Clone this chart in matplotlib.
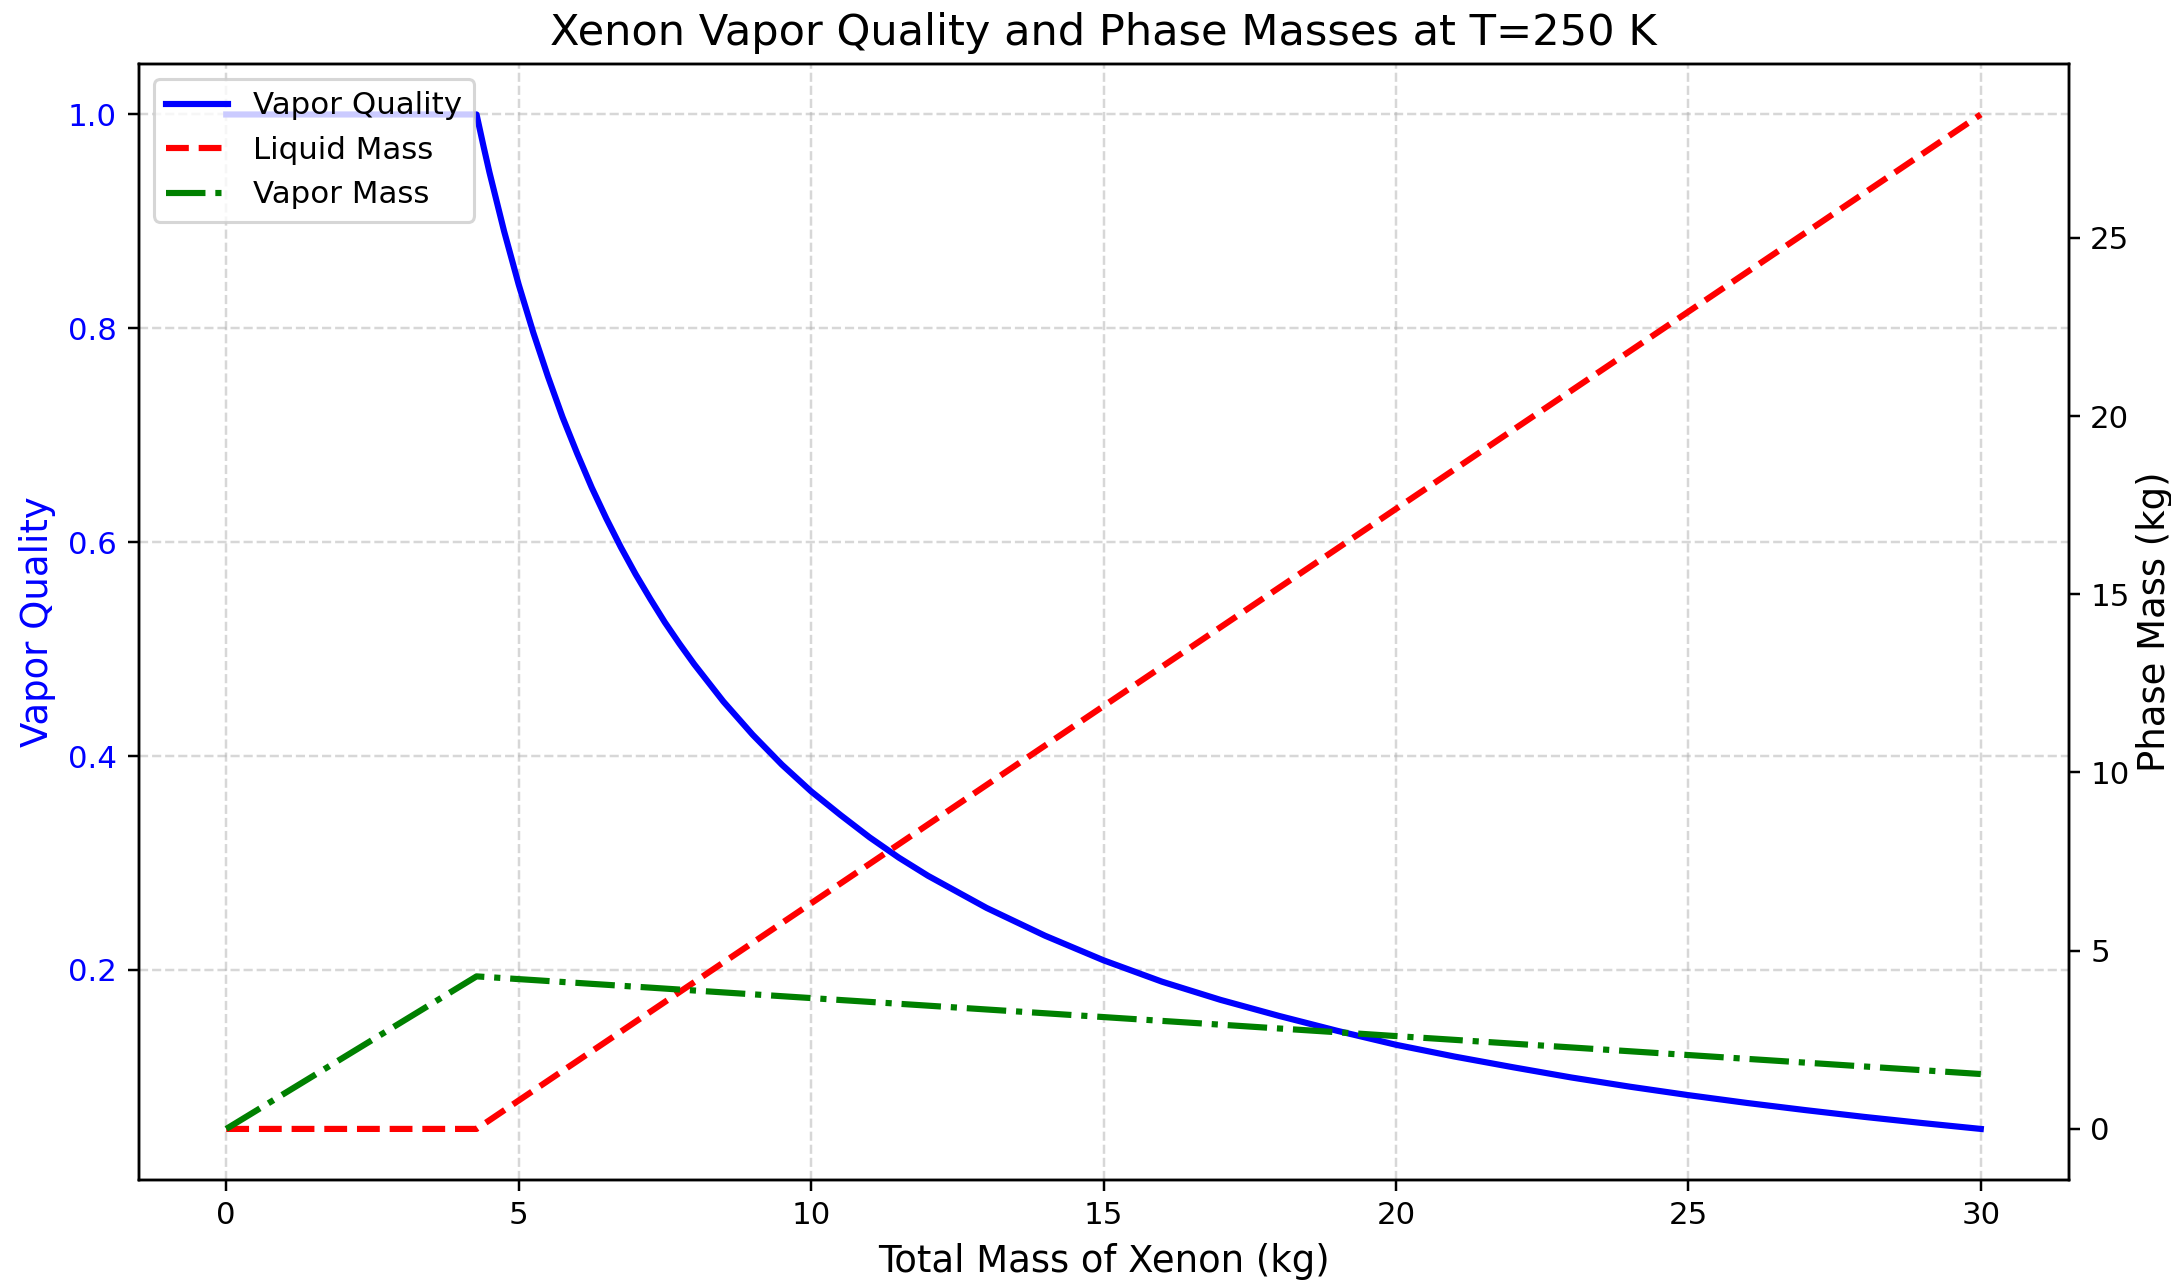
import matplotlib
matplotlib.use("Agg")
import matplotlib.pyplot as plt

# total xenon mass in the tank (kg)
total_mass = [0, 1, 2, 3, 4, 4.28, 4.4, 4.5, 4.75, 5, 5.25, 5.5, 5.75, 6,
              6.25, 6.5, 6.75, 7, 7.25, 7.5, 7.75, 8, 8.5, 9, 9.5, 10, 10.5,
              11, 11.5, 12,
              13, 14, 15, 16, 17, 18, 19, 20, 21, 22, 23, 24, 25, 26, 27, 28,
              29, 30]

vapor_quality = [1.0, 1.0, 1.0, 1.0, 1.0, 1.0, 0.970, 0.946, 0.891, 0.841,
                 0.796, 0.755, 0.717, 0.683, 0.651, 0.622, 0.595, 0.570,
                 0.547, 0.525, 0.505, 0.486, 0.451, 0.420, 0.392, 0.367,
                 0.345, 0.324, 0.305, 0.288,
                 0.258, 0.232, 0.209, 0.189, 0.172, 0.157, 0.143, 0.130,
                 0.119, 0.109, 0.0994, 0.0908, 0.0829, 0.0756, 0.0689,
                 0.0626, 0.0568, 0.0513]

liquid_mass = [0, 0, 0, 0, 0, 0, 0.133, 0.243, 0.520, 0.797, 1.073, 1.350,
               1.627, 1.903, 2.180, 2.456, 2.733, 3.010, 3.286, 3.563, 3.840,
               4.116, 4.670, 5.223, 5.776, 6.329, 6.883, 7.436, 7.989, 8.542,
               9.649, 10.755, 11.862, 12.969, 14.075, 15.182, 16.288, 17.395,
               18.501, 19.608, 20.714, 21.821, 22.927, 24.034, 25.140,
               26.247, 27.353, 28.460]

vapor_mass = [0, 1, 2, 3, 4, 4.28, 4.267, 4.257, 4.230, 4.203, 4.177, 4.150,
              4.123, 4.097, 4.070, 4.044, 4.017, 3.990, 3.964, 3.937, 3.910,
              3.884, 3.830, 3.777, 3.724, 3.671, 3.617, 3.564, 3.511, 3.458,
              3.351, 3.245, 3.138, 3.031, 2.925, 2.818, 2.712, 2.605, 2.499,
              2.392, 2.286, 2.179, 2.073, 1.966, 1.860, 1.753, 1.647, 1.540]

dpi = 222
fig, ax1 = plt.subplots(figsize=(2171 / dpi, 1280 / dpi), dpi=dpi)
fig.subplots_adjust(left=0.0638, right=0.9528, top=0.9502, bottom=0.0784)

l1, = ax1.plot(total_mass, vapor_quality, 'b-', lw=2, label="Vapor Quality")
ax1.set_xlabel("Total Mass of Xenon (kg)", fontsize=12)
ax1.set_ylabel("Vapor Quality", color='b', fontsize=12)
ax1.tick_params(axis='y', labelcolor='b')
ax1.grid(True, linestyle='--', alpha=0.5)

ax2 = ax1.twinx()
l2, = ax2.plot(total_mass, liquid_mass, 'r--', lw=2, label="Liquid Mass")
l3, = ax2.plot(total_mass, vapor_mass, 'g-.', lw=2, label="Vapor Mass")
ax2.set_ylabel("Phase Mass (kg)", fontsize=12, labelpad=2)

ax2.legend(handles=[l1, l2, l3], loc='upper left', fontsize=10)

plt.title("Xenon Vapor Quality and Phase Masses at T=250 K", fontsize=14)
fig.savefig("out.png", dpi=dpi)
